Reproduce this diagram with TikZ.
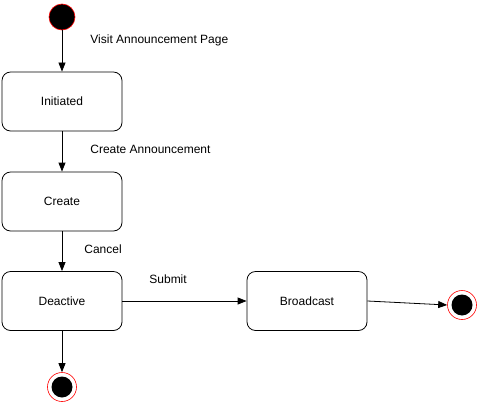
\documentclass[tikz,border=0pt]{standalone}
\usepackage{fontspec}
\setmainfont{Liberation Sans}
\usetikzlibrary{arrows.meta}

\begin{document}
\begin{tikzpicture}[x=1pt,y=-1pt,thick,font=\fontsize{12}{14}\selectfont]
    % `state' is used for the rounded boxes.
    % `start' and `stop' are the initial and final dots.
    % `flow' is used for all connectors.
    \tikzstyle{state} = [draw,fill=white,rounded corners=3mm,minimum width=120pt,minimum height=59pt,line width=0.8pt]
    \tikzstyle{start} = [draw=red,fill=black,shape=circle,minimum size=26pt,inner sep=0pt,line width=0.6pt]
    \tikzstyle{stop} = [draw=red,fill=white,shape=circle,minimum size=29pt,inner sep=0pt,line width=0.6pt,
      path picture={\fill[black] (path picture bounding box.center) circle (10.5pt);}]
    \tikzstyle{flow} = [draw,line width=0.8pt,-{Triangle[length=9pt,width=7pt]}]
    \tikzstyle{event} = [anchor=west,inner sep=0pt]
    %
    \useasboundingbox (0,0) rectangle (479,404);
    %
    \node[start] (init) at (62,17) {};
    \node[state] (initiated) at (62,101.5) {Initiated};
    \node[state] (create) at (62,201.5) {Create};
    \node[state] (deactive) at (62,301) {Deactive};
    \node[state] (broadcast) at (307,301) {Broadcast};
    \node[stop] (end1) at (62,387) {};
    \node[stop] (end2) at (462,305) {};
    %
    % Draw transitions.
    \draw[flow] (init) -- (initiated);
    \draw[flow] (initiated) -- (create);
    \draw[flow] (create) -- (deactive);
    \draw[flow] (deactive) -- (broadcast);
    \draw[flow] (deactive) -- (end1);
    \draw[flow] (broadcast.east) -- (end2.west);
    %
    % Event labels.
    \node[event] (visit) at (90,40) {Visit Announcement Page};
    \node[event] (announce) at (90,149) {Create Announcement};
    \node[event] (cancel) at (84,249) {Cancel};
    \node[event] (submit) at (149,279) {Submit};
\end{tikzpicture}
\end{document}
